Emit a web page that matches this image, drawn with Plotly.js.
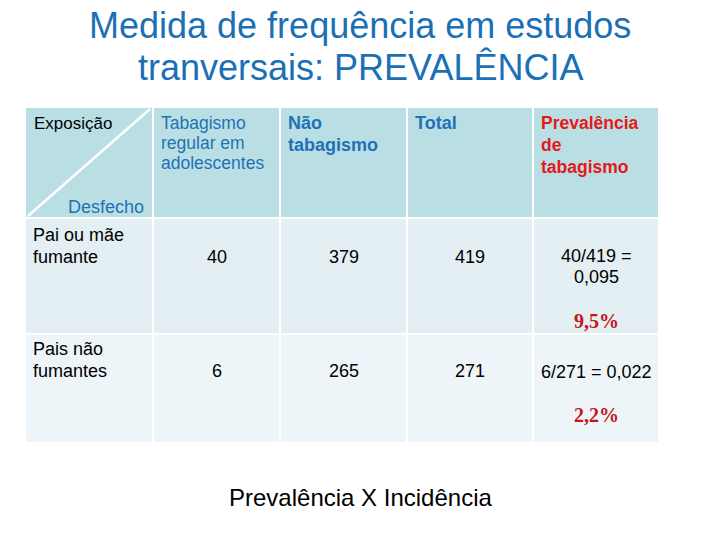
<!DOCTYPE html>
<html>
<head>
<meta charset="utf-8">
<script src="https://cdn.plot.ly/plotly-3.0.1.min.js"></script>
<style>html,body{margin:0;padding:0;background:#fff}#chart{width:720px;height:540px}</style>
</head>
<body>
<div id="chart"></div>
<script>
// ---- data ----
const titleLines = ["Medida de frequência em estudos", "tranversais: PREVALÊNCIA"];
const cornerTop = "Exposição";
const cornerBottom = "Desfecho";
const headers = ["Tabagismo<br>regular em<br>adolescentes", "Não<br>tabagismo", "Total", "Prevalência<br>de<br>tabagismo"];
const rowLabels = ["Pai ou mãe<br>fumante", "Pais não<br>fumantes"];
const smokers = [40, 6];
const nonSmokers = [379, 265];
const totals = [419, 271];
const prevalenceCalc = ["40/419 =<br>0,095", "6/271 = 0,022"];
const prevalencePct = ["9,5%", "2,2%"];
const footer = "Prevalência X Incidência";

// ---- layout geometry ----
const colEdges = [26, 154, 281, 408, 534, 660];
const rowEdges = [108, 219, 335, 444];
const gap = 2;
const rowFills = ["#b9dfe5", "#e3eff2", "#eef5f8"];
const blue = "#1b70b5";
const headBlue = "#1f72b4";
const red = "#e3191b";
const darkRed = "#c4161c";

const shapes = [];
for (let r = 0; r < 3; r++) {
  for (let c = 0; c < 5; c++) {
    shapes.push({type: "rect", xref: "x", yref: "y",
      x0: colEdges[c], x1: colEdges[c + 1] - gap,
      y0: rowEdges[r], y1: rowEdges[r + 1] - gap,
      fillcolor: rowFills[r], line: {width: 0}, layer: "below"});
  }
}
// diagonal
shapes.push({type: "line", xref: "x", yref: "y", x0: 28, y0: 216, x1: 150, y1: 109,
  line: {color: "#ffffff", width: 2.5}});

const ann = [];
const F = "Arial, 'Liberation Sans', sans-serif";
// title
ann.push({x: 360, y: 25, text: titleLines[0], font: {family: F, size: 36, color: blue}, showarrow: false, xanchor: "center", yanchor: "middle"});
ann.push({x: 360, y: 67, text: titleLines[1], font: {family: F, size: 36, color: blue}, showarrow: false, xanchor: "center", yanchor: "middle"});
// corner
ann.push({x: 32, y: 123, text: cornerTop, font: {family: F, size: 17, color: "#000"}, showarrow: false, xanchor: "left", yanchor: "middle"});
ann.push({x: 146, y: 207, text: cornerBottom, font: {family: F, size: 18, color: headBlue}, showarrow: false, xanchor: "right", yanchor: "middle"});
// headers
const hStyle = [
  {size: 17.5, color: headBlue, bold: false, lh: 20},
  {size: 18, color: headBlue, bold: true, lh: 22},
  {size: 18, color: headBlue, bold: true, lh: 22},
  {size: 17.5, color: red, bold: true, lh: 22}
];
headers.forEach((h, i) => {
  const lines = h.split("<br>");
  lines.forEach((ln, k) => {
    ann.push({x: colEdges[i + 1] + 5, y: 123 + k * hStyle[i].lh,
      text: hStyle[i].bold ? "<b>" + ln + "</b>" : ln,
      font: {family: F, size: hStyle[i].size, color: hStyle[i].color},
      showarrow: false, xanchor: "left", yanchor: "middle"});
  });
});
// body rows
const rowTop = [235, 349];
for (let r = 0; r < 2; r++) {
  const lines = rowLabels[r].split("<br>");
  lines.forEach((ln, k) => {
    ann.push({x: 31, y: rowTop[r] + k * 22, text: ln, font: {family: F, size: 18, color: "#000"},
      showarrow: false, xanchor: "left", yanchor: "middle"});
  });
  const yv = rowTop[r] + 22;
  [smokers[r], nonSmokers[r], totals[r]].forEach((v, c) => {
    ann.push({x: (colEdges[c + 1] + colEdges[c + 2] - gap) / 2, y: yv, text: String(v),
      font: {family: F, size: 18, color: "#000"}, showarrow: false, xanchor: "center", yanchor: "middle"});
  });
  const pl = prevalenceCalc[r].split("<br>");
  const cx = (colEdges[4] + colEdges[5] - gap) / 2;
  const y0 = pl.length > 1 ? rowTop[r] + 21 : rowTop[r] + 23;
  pl.forEach((ln, k) => {
    ann.push({x: cx, y: y0 + k * 21, text: ln, font: {family: F, size: 18, color: "#000"},
      showarrow: false, xanchor: "center", yanchor: "middle"});
  });
  ann.push({x: cx, y: rowTop[r] + (r === 0 ? 86 : 66), text: "<b>" + prevalencePct[r] + "</b>",
    font: {family: "'Liberation Serif', 'Times New Roman', serif", size: 20, color: darkRed},
    showarrow: false, xanchor: "center", yanchor: "middle"});
}
// footer
ann.push({x: 360, y: 497, text: footer, font: {family: F, size: 24, color: "#000"}, showarrow: false, xanchor: "center", yanchor: "middle"});

const layout = {
  width: 720, height: 540,
  margin: {l: 0, r: 0, t: 0, b: 0},
  paper_bgcolor: "#ffffff", plot_bgcolor: "#ffffff",
  xaxis: {range: [0, 720], visible: false, fixedrange: true},
  yaxis: {range: [540, 0], visible: false, fixedrange: true},
  shapes: shapes, annotations: ann, showlegend: false
};
Plotly.newPlot("chart", [{x: [], y: [], type: "scatter"}], layout, {displayModeBar: false, staticPlot: true});
</script>
</body>
</html>
